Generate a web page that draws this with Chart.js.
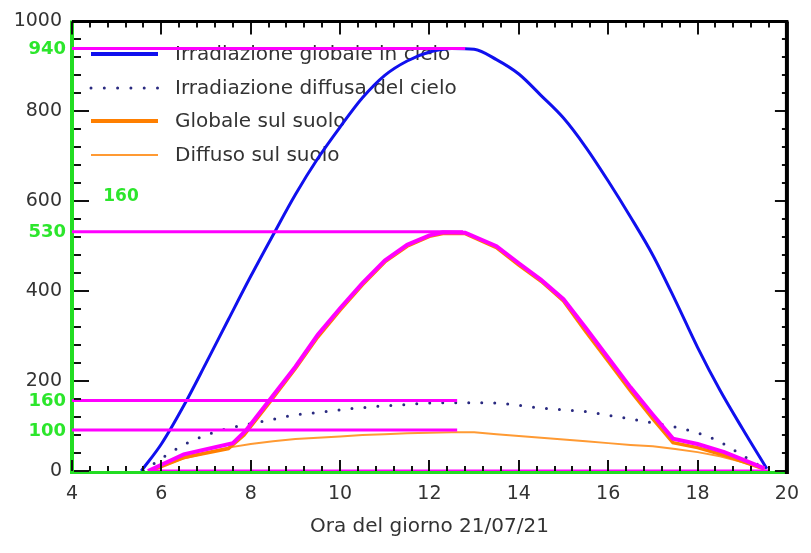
<!DOCTYPE html>
<html>
<head>
<meta charset="utf-8">
<script src="https://cdn.jsdelivr.net/npm/chart.js@4.4.1/dist/chart.umd.min.js"></script>
<style>
html, body { margin: 0; padding: 0; background: #fff; }
#wrap { width: 811px; height: 553px; }
</style>
</head>
<body>
<div id="wrap"><canvas id="chart"></canvas></div>
<script>
// Irradiazione globale in cielo
var skyGlobalHours = [5.55, 6, 6.5, 7, 7.5, 8, 8.5, 9, 9.5, 10, 10.5, 11, 11.5, 12, 12.5, 13, 13.5, 14, 14.5, 15, 15.5, 16, 16.5, 17, 17.5, 18, 18.5, 19, 19.55];
var skyGlobalValues = [0, 60, 145, 240, 337, 433, 525, 615, 695, 765, 830, 880, 912, 932, 940, 938, 915, 883, 835, 785, 720, 645, 565, 480, 380, 275, 180, 95, 5];

// Irradiazione diffusa del cielo
var skyDiffuseHours = [5.6, 6, 6.5, 7, 7.5, 8, 8.5, 9, 9.5, 10, 10.5, 11, 11.5, 12, 12.5, 13, 13.5, 14, 14.5, 15, 15.5, 16, 16.5, 17, 17.5, 18, 18.5, 19, 19.5];
var skyDiffuseValues = [0, 28, 58, 80, 95, 105, 115, 125, 130, 136, 141, 145, 148, 151, 152, 152, 151, 146, 140, 136, 132, 124, 116, 107, 98, 85, 65, 35, 5];

// Globale sul suolo
var groundGlobalHours = [5.75, 6.5, 7.5, 7.85, 8.4, 9, 9.5, 10, 10.5, 11, 11.5, 12, 12.3, 12.8, 13.5, 14, 14.5, 15, 15.5, 16, 16.5, 17, 17.45, 18, 18.6, 19.5];
var groundGlobalValues = [0, 30, 50, 80, 150, 228, 298, 358, 414, 465, 500, 522, 528, 528, 497, 458, 422, 378, 310, 244, 178, 116, 63, 52, 35, 4];

// Diffuso sul suolo
var groundDiffuseHours = [5.7, 6.5, 7.5, 8, 8.5, 9, 9.5, 10, 10.5, 11, 11.5, 12, 12.5, 13, 13.5, 14, 14.5, 15, 15.5, 16, 16.5, 17, 17.5, 18, 18.5, 19, 19.5];
var groundDiffuseValues = [0, 28, 52, 60, 66, 71, 74, 77, 80, 82, 84, 85, 86, 86, 82, 78, 74, 70, 66, 62, 58, 55, 49, 42, 33, 20, 5];

// magenta trace drawn over the ground global curve
var traceHours = [5.7, 6.5, 7.6, 7.9, 8.4, 9, 9.5, 10, 10.5, 11, 11.5, 12, 12.3, 12.8, 13.5, 14, 14.5, 15, 15.5, 16, 16.5, 17, 17.45, 18, 18.6, 19.5];
var traceValues = [0, 37, 62, 91, 155, 232, 303, 362, 418, 468, 503, 524, 531, 530, 500, 462, 425, 382, 318, 252, 186, 125, 72, 60, 42, 6];

// magenta reference levels and their green labels
var refLevels = [940, 532, 157, 91];
var refEnds = [12.8, 12.75, 12.62, 12.62];
var refLabels = ['940', '530', '160', '100'];
var baseLine = [5.7, 19.6];
var extraLabel = '160';
var extraLabelAt = [4.7, 610];

var legendNames = ['Irradiazione globale in cielo', 'Irradiazione diffusa del cielo', 'Globale sul suolo', 'Diffuso sul suolo'];

var FONT = 'DejaVu Sans';
var BLUE = '#1010ee', NAVY = '#2a2a80', ORANGE = '#ff7f00', ORANGE2 = '#ff9a33', MAGENTA = '#ff00ff', GREEN = '#22dd22';

function pairs(xs, ys) {
    return xs.map(function (x, i) { return { x: x, y: ys[i] }; });
}

var datasets = [];
datasets.push({ data: pairs(traceHours, traceValues), borderColor: MAGENTA, borderWidth: 4 });
refLevels.forEach(function (v, i) {
    datasets.push({ data: [{ x: 4, y: v }, { x: refEnds[i], y: v }], borderColor: MAGENTA, borderWidth: 3 });
});
datasets.push({ data: [{ x: baseLine[0], y: 0 }, { x: baseLine[1], y: 0 }], borderColor: MAGENTA, borderWidth: 3 });
datasets.push({ data: pairs(skyGlobalHours, skyGlobalValues), borderColor: BLUE, borderWidth: 3, cubicInterpolationMode: 'monotone' });
datasets.push({ data: pairs(skyDiffuseHours, skyDiffuseValues), borderColor: NAVY, borderWidth: 3, borderDash: [0, 13], borderCapStyle: 'round', cubicInterpolationMode: 'monotone' });
datasets.push({ data: pairs(groundGlobalHours, groundGlobalValues), borderColor: ORANGE, borderWidth: 3.5 });
datasets.push({ data: pairs(groundDiffuseHours, groundDiffuseValues), borderColor: ORANGE2, borderWidth: 2 });

function seg(ctx, x1, y1, x2, y2) {
    ctx.beginPath(); ctx.moveTo(x1, y1); ctx.lineTo(x2, y2); ctx.stroke();
}

var frame = {
    id: 'frame',
    beforeDatasetsDraw: function (chart) {
        var ctx = chart.ctx, a = chart.chartArea;
        ctx.save();
        // green axes
        ctx.strokeStyle = GREEN;
        ctx.lineWidth = 4;
        seg(ctx, a.left, a.top - 1, a.left, a.bottom + 3);
        ctx.lineWidth = 3;
        seg(ctx, a.left, a.bottom + 1.5, a.right, a.bottom + 1.5);
        // legend under the curves
        var rows = [54, 88, 121, 155];
        var styles = [
            { c: BLUE, w: 4, d: [], cap: 'butt' },
            { c: NAVY, w: 3, d: [0, 13.3], cap: 'round' },
            { c: ORANGE, w: 4, d: [], cap: 'butt' },
            { c: ORANGE2, w: 2, d: [], cap: 'butt' }
        ];
        ctx.font = '20px "' + FONT + '"';
        ctx.textBaseline = 'middle';
        ctx.textAlign = 'left';
        rows.forEach(function (y, i) {
            var s = styles[i];
            ctx.strokeStyle = s.c; ctx.lineWidth = s.w; ctx.setLineDash(s.d); ctx.lineCap = s.cap;
            seg(ctx, 91, y, 158, y);
            ctx.setLineDash([]);
            ctx.fillStyle = '#333';
            ctx.fillText(legendNames[i], 175, y + 1);
        });
        ctx.restore();
    },
    afterDatasetsDraw: function (chart) {
        var ctx = chart.ctx, a = chart.chartArea, xs = chart.scales.x, ys = chart.scales.y;
        ctx.save();
        ctx.strokeStyle = '#111';
        ctx.lineWidth = 2;
        var v, p, major;
        for (v = 0; v <= 1000; v += 40) {
            p = Math.round(ys.getPixelForValue(v));
            major = v % 200 === 0;
            seg(ctx, a.left + 2, p, a.left + (major ? 17 : 9), p);
            seg(ctx, a.right, p, a.right - (major ? 12 : 5), p);
        }
        for (var k = 0; k <= 40; k++) {
            v = 4 + k * 0.4;
            p = Math.round(xs.getPixelForValue(v));
            major = k % 5 === 0;
            seg(ctx, p, a.bottom, p, a.bottom - (major ? 11 : 5));
            seg(ctx, p, a.top, p, a.top + (major ? 13 : 6));
        }
        // black frame top and right
        ctx.strokeStyle = '#000';
        ctx.lineWidth = 3;
        seg(ctx, a.left, a.top, a.right + 1.5, a.top);
        ctx.lineWidth = 4;
        seg(ctx, a.right, a.top, a.right, a.bottom + 3);
        // green labels
        ctx.fillStyle = '#2ce62c';
        ctx.font = 'bold 18px "' + FONT + '"';
        ctx.textBaseline = 'middle';
        ctx.textAlign = 'right';
        refLevels.forEach(function (lv, i) {
            ctx.fillText(refLabels[i], a.left - 6, ys.getPixelForValue(lv) + 1);
        });
        ctx.textAlign = 'left';
        ctx.font = 'bold 17px "' + FONT + '"';
        ctx.fillText(extraLabel, xs.getPixelForValue(extraLabelAt[0]), ys.getPixelForValue(extraLabelAt[1]));
        ctx.restore();
    }
};

new Chart(document.getElementById('chart'), {
    type: 'line',
    data: { datasets: datasets },
    options: {
        responsive: true,
        maintainAspectRatio: false,
        animation: false,
        layout: { padding: { top: 19, right: 15, left: 0, bottom: 0 } },
        elements: { point: { radius: 0 }, line: { tension: 0, fill: false } },
        plugins: { legend: { display: false }, tooltip: { enabled: false } },
        scales: {
            x: {
                type: 'linear',
                min: 4,
                max: 20,
                grid: { display: false, drawTicks: false },
                border: { display: false },
                ticks: { stepSize: 2, padding: 12, color: '#333', font: { family: FONT, size: 19 } },
                title: { display: true, text: 'Ora del giorno 21/07/21', color: '#333', font: { family: FONT, size: 20 }, padding: { top: 0, bottom: 14 } },
                afterFit: function (scale) { scale.height = 82; }
            },
            y: {
                min: 0,
                max: 1000,
                grid: { display: false, drawTicks: false },
                border: { display: false },
                ticks: {
                    stepSize: 200, padding: 10, color: '#333', font: { family: FONT, size: 19 },
                    callback: function (value) { return value % 200 === 0 ? value : ''; }
                },
                afterFit: function (scale) { scale.width = 72; }
            }
        }
    },
    plugins: [frame]
});
</script>
</body>
</html>
